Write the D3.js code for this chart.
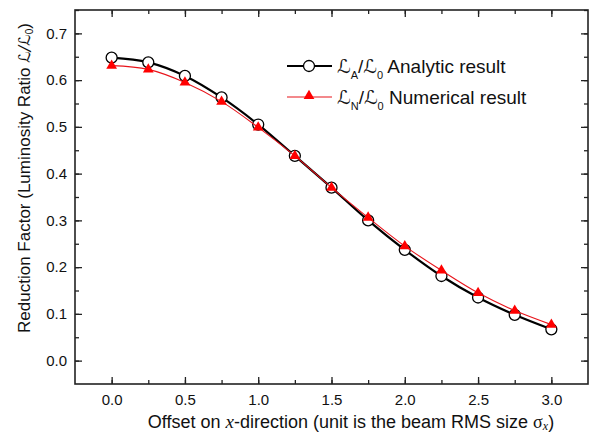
<!DOCTYPE html>
<html><head><meta charset="utf-8">
<script src="https://cdn.jsdelivr.net/npm/d3@7/dist/d3.min.js"></script>
<style>
body{margin:0;background:#fff;}
text{font-family:"Liberation Sans",Arial,sans-serif;fill:#111;}
</style></head>
<body><svg id="chart" width="589" height="443"></svg>
<script>
const offsets = [0, 0.25, 0.5, 0.75, 1.0, 1.25, 1.5, 1.75, 2.0, 2.25, 2.5, 2.75, 3.0];
const analytic = [0.648, 0.638, 0.609, 0.563, 0.505, 0.438, 0.370, 0.300, 0.237, 0.181, 0.135, 0.098, 0.067];
const numerical = [0.631, 0.623, 0.595, 0.554, 0.499, 0.438, 0.370, 0.306, 0.245, 0.193, 0.145, 0.107, 0.077];
const xTicks = [0, 0.5, 1.0, 1.5, 2.0, 2.5, 3.0];
const yTicks = [0, 0.1, 0.2, 0.3, 0.4, 0.5, 0.6, 0.7];

const svg = d3.select("#chart");
const L = 75, R = 588, T = 10, B = 384;
const x = d3.scaleLinear().domain([-0.25, 3.25]).range([L, R]);
const y = d3.scaleLinear().domain([-0.05, 0.75]).range([B, T]);

const xMinor = d3.range(0, 3.01, 0.25);
const yMinor = d3.range(0, 0.751, 0.05);

const axB = d3.axisBottom(x).tickValues(xMinor).tickSize(-4).tickFormat("");
const axT = d3.axisTop(x).tickValues(xMinor).tickSize(-4).tickFormat("");
const axBM = d3.axisBottom(x).tickValues(xTicks).tickSize(-7).tickPadding(10).tickFormat(d3.format(".1f"));
const axTM = d3.axisTop(x).tickValues(xTicks).tickSize(-7).tickFormat("");
const axL = d3.axisLeft(y).tickValues(yMinor).tickSize(-4).tickFormat("");
const axR = d3.axisRight(y).tickValues(yMinor).tickSize(-4).tickFormat("");
const axLM = d3.axisLeft(y).tickValues(yTicks).tickSize(-7).tickPadding(8).tickFormat(d3.format(".1f"));
const axRM = d3.axisRight(y).tickValues(yTicks).tickSize(-7).tickFormat("");

function put(ax, tr){
  const g = svg.append("g").attr("transform", tr).call(ax);
  g.select(".domain").remove();
  g.selectAll(".tick line").attr("stroke","#222").attr("stroke-width",1.3);
  g.selectAll(".tick text").style("font-size","15px").attr("fill","#1a1a1a");
  return g;
}
put(axB, `translate(0,${B})`);
put(axT, `translate(0,${T})`);
put(axBM, `translate(0,${B})`);
put(axTM, `translate(0,${T})`);
put(axL, `translate(${L},0)`);
put(axR, `translate(${R},0)`);
put(axLM, `translate(${L},0)`);
put(axRM, `translate(${R},0)`);

svg.append("rect").attr("x",L).attr("y",T).attr("width",R-L).attr("height",B-T)
  .attr("fill","none").attr("stroke","#222").attr("stroke-width",1.6);

const line = d3.line().x(d=>x(d[0])).y(d=>y(d[1])).curve(d3.curveCatmullRom);
const dA = offsets.map((o,i)=>[o, analytic[i]]);
const dN = offsets.map((o,i)=>[o, numerical[i]]);

svg.append("path").datum(dA).attr("d",line).attr("fill","none").attr("stroke","#000").attr("stroke-width",2.2);
svg.selectAll("circle.a").data(dA).join("circle").attr("class","a")
  .attr("cx",d=>x(d[0])).attr("cy",d=>y(d[1])).attr("r",5.5)
  .attr("fill","#fff").attr("stroke","#000").attr("stroke-width",1.3);
svg.append("path").datum(dN).attr("d",line).attr("fill","none").attr("stroke","#e8141b").attr("stroke-width",1.1);
const tri = d3.symbol().type(d3.symbolTriangle).size(50);
svg.selectAll("path.n").data(dN).join("path").attr("class","n")
  .attr("transform",d=>`translate(${x(d[0])},${y(d[1])})`).attr("d",tri).attr("fill","#f00");

// legend
const lg = svg.append("g");
lg.append("line").attr("x1",287).attr("x2",332).attr("y1",66).attr("y2",66).attr("stroke","#000").attr("stroke-width",2.2);
lg.append("circle").attr("cx",309).attr("cy",66).attr("r",5.5).attr("fill","#fff").attr("stroke","#000").attr("stroke-width",1.3);
lg.append("line").attr("x1",287).attr("x2",332).attr("y1",97).attr("y2",97).attr("stroke","#e8141b").attr("stroke-width",1.1);
lg.append("path").attr("transform","translate(309,96)").attr("d",tri).attr("fill","#f00");

function legendText(yy, sub, label){
  const t = lg.append("text").attr("x",337).attr("y",yy).style("font-size","19px");
  t.append("tspan").text("ℒ").style("font-family","DejaVu Sans");
  t.append("tspan").text(sub).attr("dy",6).style("font-size","11px");
  t.append("tspan").text("/").attr("dy",-6);
  t.append("tspan").text("ℒ").style("font-family","DejaVu Sans");
  t.append("tspan").text("0").attr("dy",6).style("font-size","11px");
  t.append("tspan").text(" " + label).attr("dy",-6);
}
legendText(73, "A", "Analytic result");
legendText(104, "N", "Numerical result");

// x title
const xt = svg.append("text").attr("x",351).attr("y",428).attr("text-anchor","middle").style("font-size","18px");
xt.append("tspan").text("Offset on ");
xt.append("tspan").text("x").style("font-family","Liberation Serif").style("font-style","italic").style("font-size","19px");
xt.append("tspan").text("-direction (unit is the beam RMS size ");
xt.append("tspan").text("σ").style("font-family","Liberation Serif");
xt.append("tspan").text("x").style("font-family","Liberation Serif").style("font-style","italic").style("font-size","12px").attr("dy",2);
xt.append("tspan").text(")").attr("dy",-2);

// y title
const yt = svg.append("text").attr("transform","translate(30,178) rotate(-90)").attr("text-anchor","middle").style("font-size","17px");
yt.append("tspan").text("Reduction Factor (Luminosity Ratio ");
yt.append("tspan").text("ℒ/ℒ").style("font-family","DejaVu Sans").style("font-style","italic").style("font-size","16px");
yt.append("tspan").text("0").attr("dy",3).style("font-size","10px");
yt.append("tspan").text(")").attr("dy",-3);
</script></body></html>
